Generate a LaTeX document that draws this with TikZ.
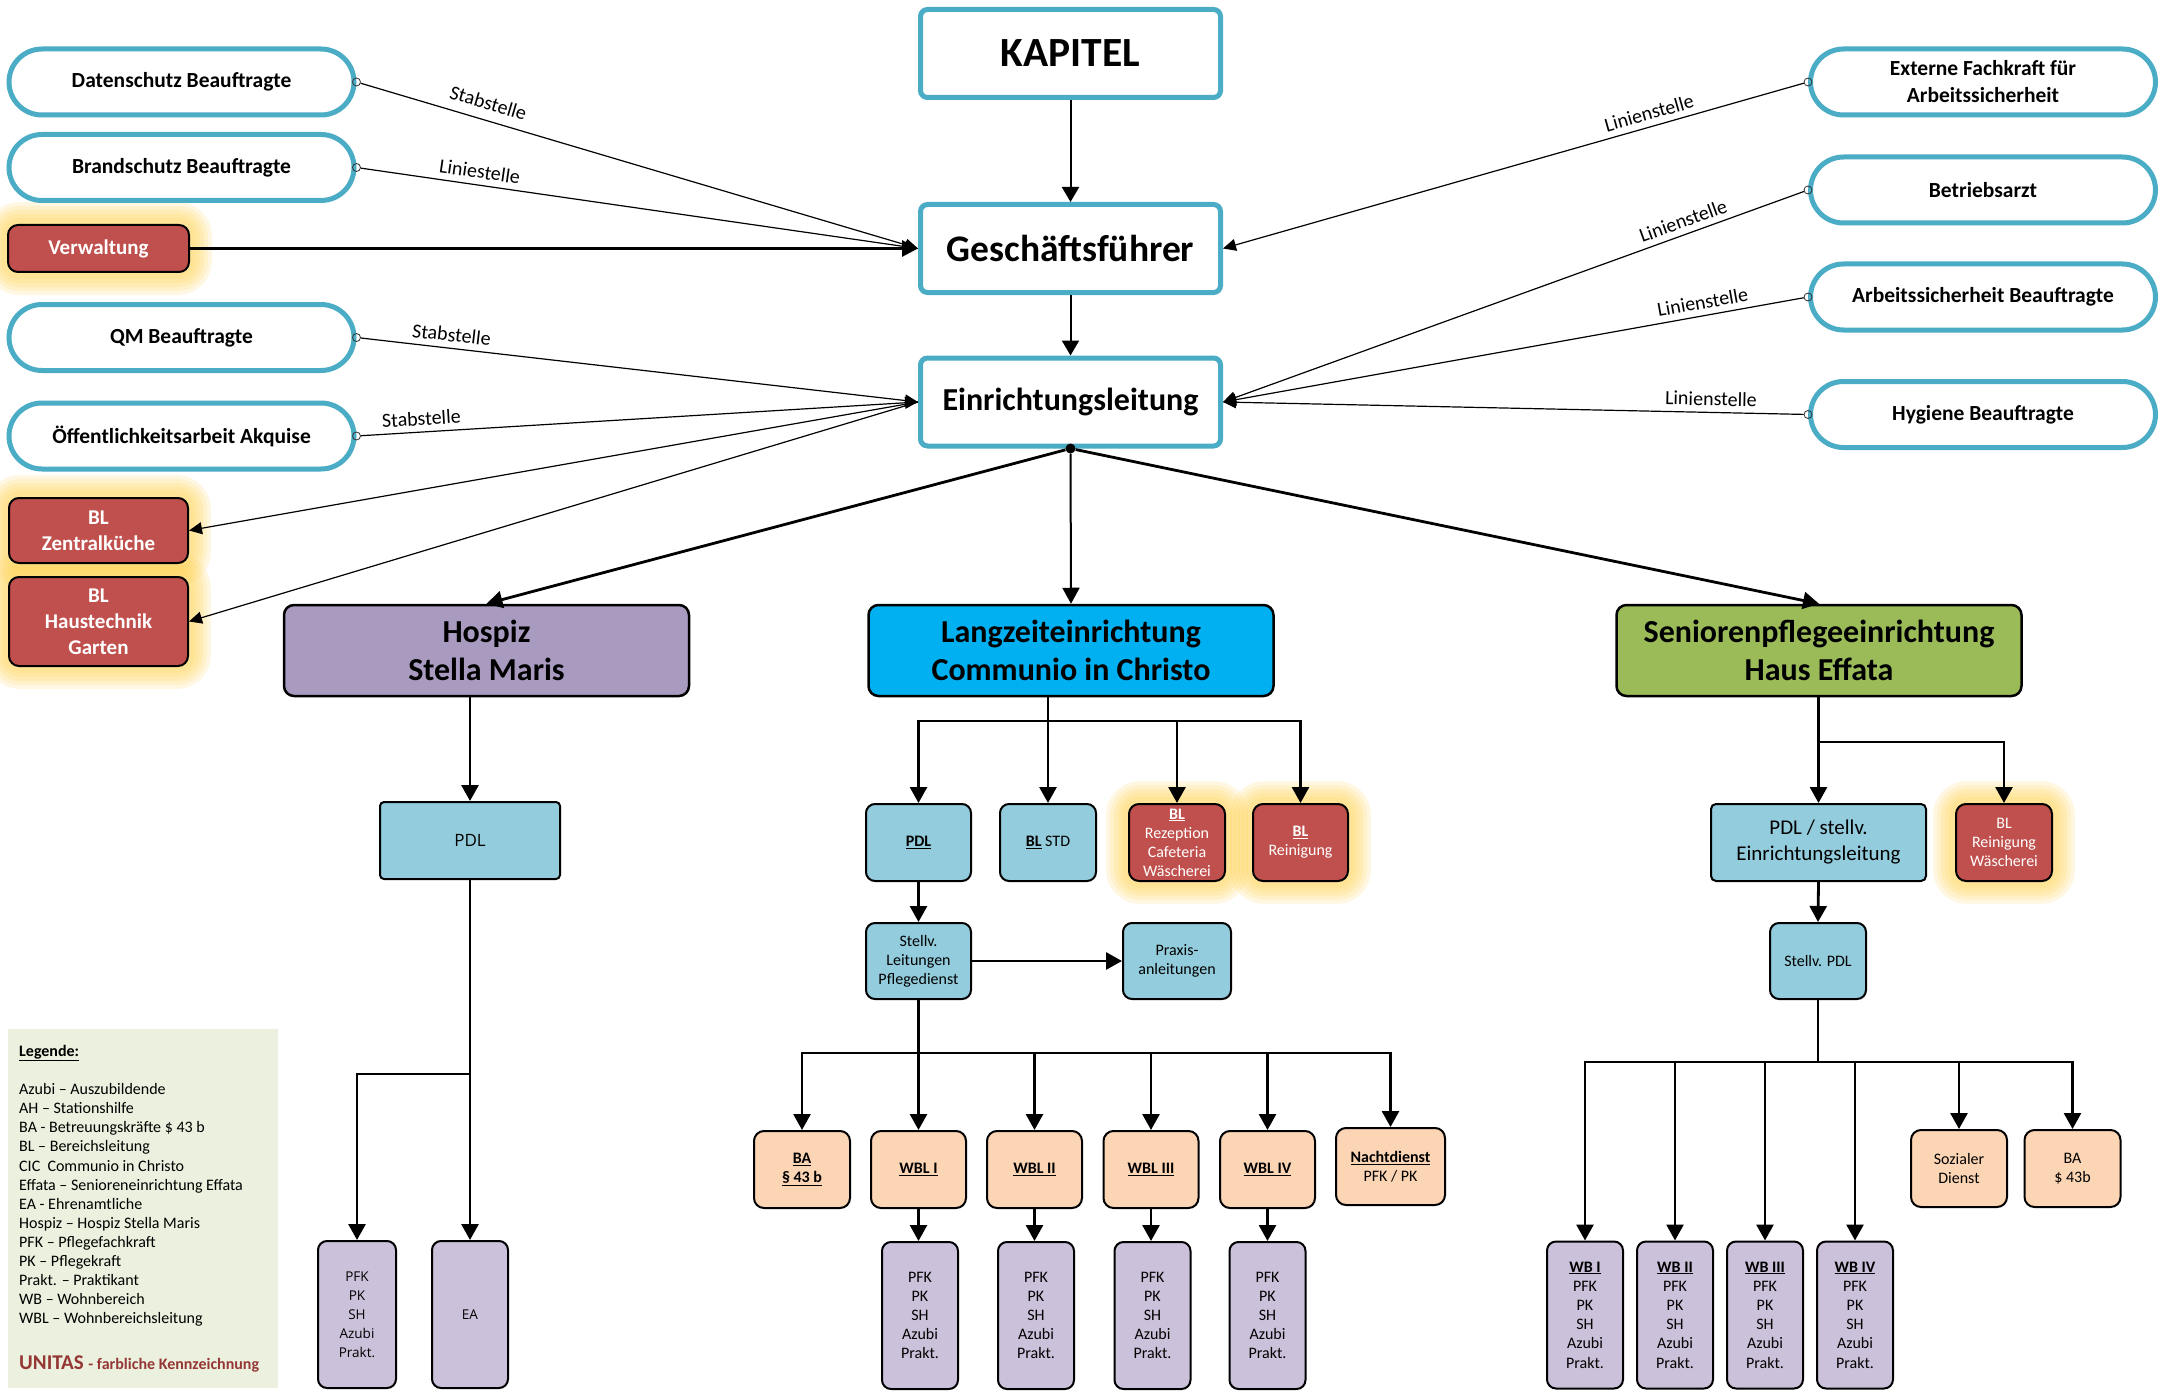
\documentclass[tikz,border=0pt]{standalone}
\usepackage{fontspec}
\setmainfont{Carlito}
\newfontfamily\osans{Open Sans}
\usetikzlibrary{arrows.meta,backgrounds}

\definecolor{bluec}{HTML}{4BACC6}
\definecolor{redc}{HTML}{C0504D}
\definecolor{lblue}{HTML}{93CDDD}
\definecolor{peach}{HTML}{FCD5B5}
\definecolor{lav}{HTML}{CCC1DA}
\definecolor{purp}{HTML}{A99BBF}
\definecolor{cyanc}{HTML}{00B0F0}
\definecolor{greenc}{HTML}{9BBB59}
\definecolor{legc}{HTML}{EBF1DE}
\definecolor{glowc}{HTML}{FFD24D}
\definecolor{unitc}{HTML}{953735}

\newcommand\fs[2]{\fontsize{#1}{#2}\selectfont}

\tikzset{
 ovalbox/.style={draw=bluec, line width=5pt, fill=white, rounded corners=33pt, minimum width=345pt, minimum height=66pt, inner sep=0pt, align=center, font=\fs{21.5}{27}\bfseries},
 topbox/.style={draw=bluec, line width=5pt, fill=white, rounded corners=7pt, minimum width=300pt, minimum height=88pt, inner sep=0pt, align=center},
 redbox/.style={draw=black, line width=2pt, fill=redc, rounded corners=10pt, inner sep=0pt, align=center, text=white},
 instbox/.style={draw=black, line width=2.5pt, rounded corners=10pt, minimum width=405pt, minimum height=91pt, inner sep=0pt, align=center, font=\fs{32}{38}\bfseries},
 bbox/.style={draw=black, line width=2pt, fill=lblue, rounded corners=9pt, inner sep=0pt, align=center, minimum height=77pt, font=\fs{16}{19}},
 pbox/.style={draw=black, line width=2pt, fill=peach, rounded corners=10pt, inner sep=0pt, align=center, minimum height=77pt, minimum width=96pt, font=\fs{16}{19}},
 lbox/.style={draw=black, line width=2pt, fill=lav, rounded corners=9pt, inner sep=0pt, align=center, minimum height=147pt, minimum width=76pt, font=\fs{16}{19.2}},
 tarr/.style={line width=1.2pt, -{Triangle[length=13pt,width=12pt]}},
 arr/.style={line width=2.8pt, -{Triangle[length=16pt,width=17pt]}},
 ln/.style={line width=2.8pt},
 lbl/.style={font=\fs{20}{24}, sloped, above, inner sep=6pt},
 cmark/.style={circle, draw=black!80, line width=0.8pt, fill=none, inner sep=0pt, minimum size=8pt},
}

\begin{document}
\begin{tikzpicture}[x=1pt,y=-1pt]
\useasboundingbox (0,0) rectangle (2164,1391);

% ---------- top boxes ----------
\node[topbox, font=\fs{41.5}{48}\bfseries] (kap) at (1070.5,53.5) {KAPITEL};
\node[topbox, font=\fs{37.5}{44}\bfseries] (gf) at (1070.5,248.5) {Geschäftsführer};
\node[topbox, font=\fs{32}{38}\bfseries] (el) at (1070.5,402) {Einrichtungsleitung};

% ---------- left ovals and red boxes ----------
\node[ovalbox] (ds) at (181.5,82) {Datenschutz Beauftragte};
\node[ovalbox] (bs) at (181.5,167.5) {Brandschutz Beauftragte};
\node[ovalbox] (qm) at (181.5,337.5) {QM Beauftragte};
\node[ovalbox] (oa) at (181.5,436) {Öffentlichkeitsarbeit Akquise};

\node[redbox, minimum width=181pt, minimum height=47pt, font=\fs{21}{26}\bfseries] (vw) at (98.5,248.5) {Verwaltung};
\node[redbox, minimum width=179pt, minimum height=65pt, font=\fs{21}{26}\bfseries] (blz) at (98.5,530.5) {BL\\Zentralküche};
\node[redbox, minimum width=179pt, minimum height=89pt, font=\fs{21}{26}\bfseries] (blh) at (98.5,621.5) {BL\\Haustechnik\\Garten};

% ---------- right ovals ----------
\node[ovalbox] (ext) at (1983,82) {Externe Fachkraft für\\Arbeitssicherheit};
\node[ovalbox] (bar) at (1983,190) {Betriebsarzt};
\node[ovalbox] (asb) at (1983,297) {Arbeitssicherheit Beauftragte};
\node[ovalbox] (hyg) at (1983,414.5) {Hygiene Beauftragte};

% markers
\node[cmark] (dsm) at (ds.east) {};
\node[cmark] (bsm) at (bs.east) {};
\node[cmark] (qmm) at (qm.east) {};
\node[cmark] (oam) at (oa.east) {};
\node[cmark] (extm) at (ext.west) {};
\node[cmark] (barm) at (bar.west) {};
\node[cmark] (asbm) at (asb.west) {};
\node[cmark] (hygm) at (hyg.west) {};

% ---------- connectors top ----------
\draw[line width=2pt, -{Triangle[length=15pt,width=17pt]}] (kap.south) -- (gf.north);
\draw[line width=2pt, -{Triangle[length=15pt,width=17pt]}] (gf.south) -- (el.north);

\draw[tarr] (dsm) -- node[lbl, pos=0.22, inner sep=10pt] {Stabstelle} (gf.west);
\draw[tarr] (bsm) -- node[lbl, pos=0.21] {Liniestelle} (gf.west);
\draw[line width=3pt, -{Triangle[length=16pt,width=16pt]}] (vw.east) -- (gf.west);
\draw[tarr] (qmm) -- node[lbl, pos=0.16] {Stabstelle} (el.west);
\draw[tarr] (oam) -- node[lbl, pos=0.11] {Stabstelle} (el.west);
\draw[tarr] (el.west) -- (blz.east);
\draw[tarr] (el.west) -- (blh.east);

\draw[tarr] (extm) -- node[lbl, pos=0.26] {Linienstelle} (gf.east);
\draw[tarr] (barm) -- node[lbl, pos=0.20] {Linienstelle} (el.east);
\draw[tarr] (asbm) -- node[lbl, pos=0.17] {Linienstelle} (el.east);
\draw[tarr] (hygm) -- node[lbl, pos=0.16] {Linienstelle} (el.east);

% ---------- institutions ----------
\node[instbox, fill=purp] (hos) at (486.5,650.5) {Hospiz\\Stella Maris};
\node[instbox, fill=cyanc] (lz) at (1071,650.5) {Langzeiteinrichtung\\Communio in Christo};
\node[instbox, fill=greenc] (sen) at (1819,650.5) {Seniorenpflegeeinrichtung\\Haus Effata};

\node[circle, fill=black, inner sep=0pt, minimum size=10pt] (eld) at (el.south) {};
\draw[arr] (eld) -- (hos.north);
\draw[line width=2pt, -{Triangle[length=16pt,width=17pt]}] (eld) -- (lz.north);
\draw[arr] (eld) -- (sen.north);

% ---------- Hospiz branch ----------
\node[bbox, rounded corners=4pt, minimum width=180pt, font=\osans\fs{17}{20}] (hpdl) at (470,840.5) {PDL};
\node[lbox, minimum width=78pt, font=\osans\fs{13.5}{19}] (hpfk) at (357,1314.5) {PFK\\PK\\SH\\Azubi\\Prakt.};
\node[lbox, font=\osans\fs{13.5}{19}] (hea) at (470,1314.5) {EA};
\coordinate (hj) at (470,1074);
\draw[arr] (hpdl.north |- hos.south) -- (hpdl.north);
\draw[arr] (hpdl.south) -- (hea.north);
\draw[arr] (hj) -| (hpfk.north);

% ---------- Langzeit branch ----------
\node[bbox, minimum width=105pt] (lpdl) at (918.5,842.5) {\underline{\textbf{PDL}}};
\node[bbox, minimum width=96pt] (lbls) at (1048,842.5) {\underline{\textbf{BL}} STD};
\node[redbox, minimum width=96pt, minimum height=77pt, font=\fs{16}{19}] (lrez) at (1177,842.5) {\underline{\textbf{BL}}\\Rezeption\\Cafeteria\\Wäscherei};
\node[redbox, minimum width=95pt, minimum height=77pt, font=\fs{16}{19}] (lrei) at (1300.5,842.5) {\underline{\textbf{BL}}\\Reinigung};
\coordinate (lzj) at (1048,721);
\draw[ln] (lzj |- lz.south) -- (lzj);
\draw[arr] (lzj) -| (lpdl.north);
\draw[arr] (lzj) -- (lbls.north);
\draw[arr] (lzj) -| (lrez.north);
\draw[arr] (lzj) -| (lrei.north);

\node[bbox, minimum width=105pt, minimum height=76pt] (lstv) at (918.5,961) {Stellv.\\Leitungen\\Pflegedienst};
\node[bbox, minimum width=108pt, minimum height=76pt] (lprx) at (1177,961) {Praxis-\\anleitungen};
\draw[arr] (lpdl.south) -- (lstv.north);
\draw[arr] (lstv.east) -- (lprx.west);

\node[pbox] (lba) at (802,1169.5) {\underline{\textbf{BA}}\\\underline{\textbf{§ 43 b}}};
\node[pbox, minimum width=95pt] (lw1) at (918.5,1169.5) {\underline{\textbf{WBL I}}};
\node[pbox, minimum width=95pt] (lw2) at (1034.5,1169.5) {\underline{\textbf{WBL II}}};
\node[pbox, minimum width=95pt] (lw3) at (1151,1169.5) {\underline{\textbf{WBL III}}};
\node[pbox, minimum width=95pt] (lw4) at (1267.5,1169.5) {\underline{\textbf{WBL IV}}};
\node[pbox, minimum width=109pt] (lnd) at (1390.5,1166.5) {\underline{\textbf{Nachtdienst}}\\PFK / PK};
\coordinate (lj2) at (918.5,1053);
\draw[ln] (lstv.south) -- (lj2);
\draw[arr] (lj2) -| (lba.north);
\draw[arr] (lj2) -- (lw1.north);
\draw[arr] (lj2) -| (lw2.north);
\draw[arr] (lj2) -| (lw3.north);
\draw[arr] (lj2) -| (lw4.north);
\draw[arr] (lj2) -| (lnd.north);

\node[lbox] (ll1) at (920,1315.5) {PFK\\PK\\SH\\Azubi\\Prakt.};
\node[lbox] (ll2) at (1036,1315.5) {PFK\\PK\\SH\\Azubi\\Prakt.};
\node[lbox] (ll3) at (1152.5,1315.5) {PFK\\PK\\SH\\Azubi\\Prakt.};
\node[lbox] (ll4) at (1267.5,1315.5) {PFK\\PK\\SH\\Azubi\\Prakt.};
\draw[arr] (lw1.south) -- (lw1.south |- ll1.north);
\draw[arr] (lw2.south) -- (lw2.south |- ll2.north);
\draw[arr] (lw3.south) -- (lw3.south |- ll3.north);
\draw[arr] (lw4.south) -- (lw4.south |- ll4.north);

% ---------- Senioren branch ----------
\node[bbox, rounded corners=5pt, minimum width=215pt, font=\fs{21}{26}] (spdl) at (1818.5,842.5) {PDL / stellv.\\Einrichtungsleitung};
\node[redbox, minimum width=96pt, minimum height=77pt, font=\fs{16}{19}] (srei) at (2004,842.5) {BL\\Reinigung\\Wäscherei};
\node[bbox, minimum width=96pt, minimum height=76pt] (sstv) at (1818,961) {Stellv. PDL};
\coordinate (snj) at (1818.5,742);
\draw[ln] (snj |- sen.south) -- (snj);
\draw[arr] (snj) -- (spdl.north);
\draw[arr] (snj) -| (srei.north);
\draw[arr] (spdl.south) -- (sstv.north);

\node[lbox] (swb1) at (1585,1315) {\underline{\textbf{WB I}}\\PFK\\PK\\SH\\Azubi\\Prakt.};
\node[lbox] (swb2) at (1675,1315) {\underline{\textbf{WB II}}\\PFK\\PK\\SH\\Azubi\\Prakt.};
\node[lbox] (swb3) at (1765,1315) {\underline{\textbf{WB III}}\\PFK\\PK\\SH\\Azubi\\Prakt.};
\node[lbox] (swb4) at (1855,1315) {\underline{\textbf{WB IV}}\\PFK\\PK\\SH\\Azubi\\Prakt.};
\node[pbox] (ssoz) at (1959,1168.5) {Sozialer\\Dienst};
\node[pbox] (sba) at (2072.5,1168.5) {BA\\\$ 43b};
\coordinate (sj2) at (1818,1062);
\draw[ln] (sstv.south) -- (sj2);
\draw[arr] (sj2) -| (swb1.north);
\draw[arr] (sj2) -| (swb2.north);
\draw[arr] (sj2) -| (swb3.north);
\draw[arr] (sj2) -| (swb4.north);
\draw[arr] (sj2) -| (ssoz.north);
\draw[arr] (sj2) -| (sba.north);

% ---------- legend ----------
\node[fill=legc, minimum width=270pt, minimum height=359pt, inner sep=0pt, anchor=north west] (leg) at (8,1029) {};
\node[anchor=north west, align=left, font=\fs{16}{19.1}, inner sep=0pt] (legt) at (19,1045) {\underline{\textbf{Legende:}}\\[19.1pt]
Azubi – Auszubildende\\
AH – Stationshilfe\\
BA - Betreuungskräfte \$ 43 b\\
BL – Bereichsleitung\\
CIC\ \ Communio in Christo\\
Effata – Senioreneinrichtung Effata\\
EA - Ehrenamtliche\\
Hospiz – Hospiz Stella Maris\\
PFK – Pflegefachkraft\\
PK – Pflegekraft\\
Prakt. – Praktikant\\
WB – Wohnbereich\\
WBL – Wohnbereichsleitung};
\node[anchor=base west, inner sep=0pt, text=unitc, font=\fs{21}{25}\bfseries] (unit) at (19,1369) {UNITAS {\fs{16}{19}- farbliche Kennzeichnung}};

% ---------- background: white and glows ----------
\begin{scope}[on background layer]
\fill[white] (0,0) rectangle (2164,1391);
\foreach \n in {vw,blz,blh,lrez,lrei,srei}{
  \foreach \w in {44,36,28,20,12}{
    \draw[glowc, opacity=0.16, line width=\w pt, rounded corners=12pt, line join=round] (\n.south west) rectangle (\n.north east);
  }
}
\end{scope}
\end{tikzpicture}
\end{document}
